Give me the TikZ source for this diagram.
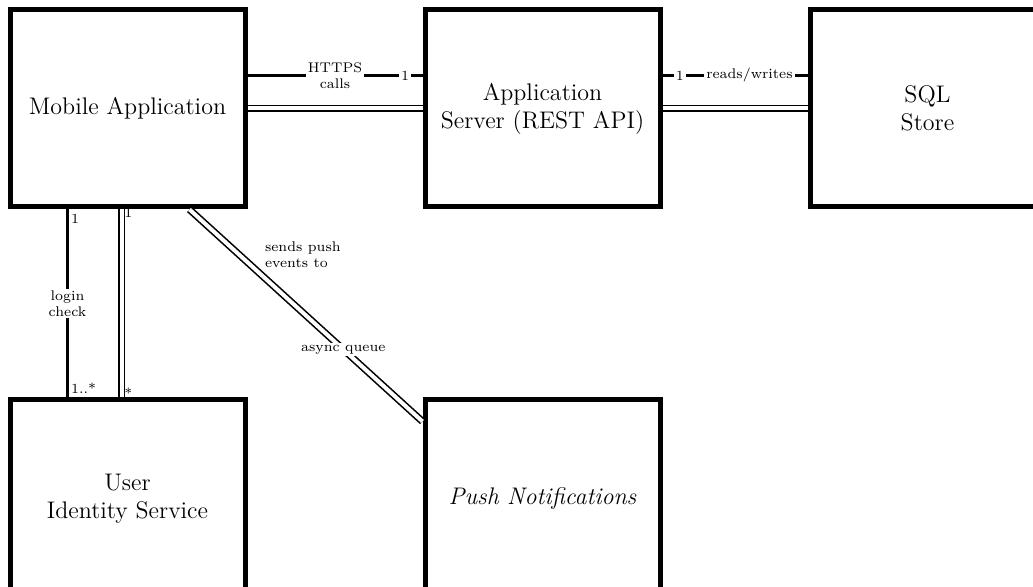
\documentclass[tikz,border=0pt]{standalone}
\usetikzlibrary{positioning,calc}

\begin{document}
\begin{tikzpicture}[x=0.5pt, y=-0.5pt,
        comp/.style={draw, line width=2.5pt, minimum width=117.5pt,
                     minimum height=98.5pt, font=\large, inner sep=2pt,
                     align=center},
        msg/.style={line width=1.6pt},
        link/.style={double, double distance=2pt, line width=0.8pt},
        lbl/.style={font=\scriptsize, fill=white, inner sep=1pt, align=center},
        mult/.style={font=\scriptsize, inner sep=1pt, align=left},
      ]
      \useasboundingbox (0,0) rectangle (1033,587);
      \node[comp] (app) at (127.5,108.5) {Mobile Application};
      \node[comp, right=87.5pt of app] (srv) {Application\\Server (REST API)};
      \node[comp, right=72.5pt of srv] (db) {SQL\\Store};
      \node[comp, below=94pt of app] (auth) {User\\Identity Service};
      \node[comp, below=94pt of srv] (push) {\itshape Push Notifications};
      % app <-> server
      \draw[msg] ([yshift=16.5pt]app.east) -- node[lbl] {HTTPS\\calls}
        node[lbl, pos=0.9] {1} ([yshift=16.5pt]srv.west);
      \draw[link] (app.east) -- (srv.west);
      % server <-> store
      \draw[msg] ([yshift=16.5pt]srv.east) -- node[lbl, pos=0.12] {1}
        node[lbl, pos=0.6] {reads/writes} ([yshift=16.5pt]db.west);
      \draw[link] (srv.east) -- (db.west);
      % app <-> auth
      \draw[msg] ([xshift=-30pt]app.south) -- node[lbl] {login\\check}
        node[mult, pos=0.05, right] {1} node[mult, pos=0.95, right] {1..*}
        ([xshift=-30pt]auth.north);
      \draw[link] ([xshift=-3pt]app.south) -- node[mult, pos=0.02, right] {1}
        node[mult, pos=0.98, right] {*} ([xshift=-3pt]auth.north);
      % app <-> notifications
      \draw[link] ([xshift=31pt]app.south)
        -- node[mult, pos=0.3, above right=2pt] {sends push\\events to}
        node[lbl, pos=0.66] {async queue} ([yshift=-12pt]push.north west);
    \end{tikzpicture}
\end{document}
